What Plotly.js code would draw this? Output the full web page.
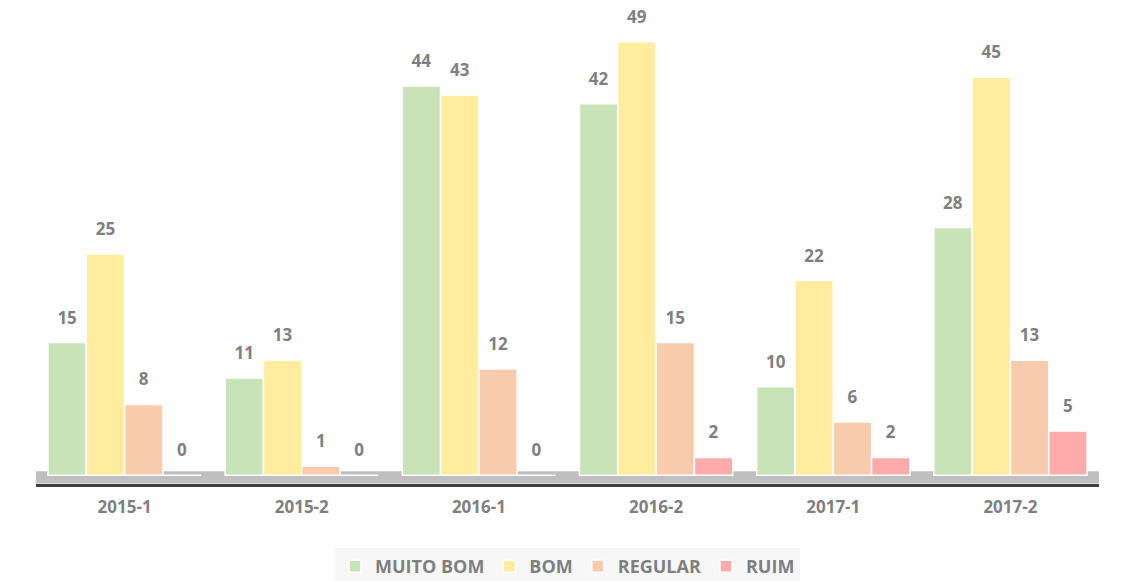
<!DOCTYPE html>
<html>
<head>
<meta charset="utf-8">
<script src="https://cdn.plot.ly/plotly-3.0.1.min.js"></script>
<style>html,body{margin:0;padding:0;background:#fff;}#chart{width:1135px;height:581px;}</style>
</head>
<body>
<div id="chart"></div>
<script>
const categories = ["2015-1", "2015-2", "2016-1", "2016-2", "2017-1", "2017-2"];
const seriesNames = ["MUITO BOM", "BOM", "REGULAR", "RUIM"];
const muitoBom = [15, 11, 44, 42, 10, 28];
const bom = [25, 13, 43, 49, 22, 45];
const regular = [8, 1, 12, 15, 6, 13];
const ruim = [0, 0, 0, 2, 2, 5];
const colors = ["#c9e3b9", "#ffec9e", "#f9cbad", "#ffabab"];

const values = [muitoBom, bom, regular, ruim];
const traces = values.map((v, i) => ({
  type: "bar",
  name: seriesNames[i],
  x: categories,
  y: v,
  marker: { color: colors[i], line: { color: "#ffffff", width: 1.5 } },
  texttemplate: "<span style='font-size:17px'>%{y}</span><br> ",
  textposition: "outside",
  cliponaxis: false,
  textfont: { family: "Open Sans, sans-serif", size: 10, color: "#7f7f7f", weight: "bold" },
  hoverinfo: "x+y+name"
}));

const layout = {
  width: 1135,
  height: 581,
  margin: { l: 36, r: 36, t: 10, b: 97, autoexpand: false },
  paper_bgcolor: "#ffffff",
  plot_bgcolor: "#ffffff",
  barmode: "group",
  bargap: 0.135,
  bargroupgap: 0,
  showlegend: true,
  legend: {
    orientation: "h",
    x: 0.5, xanchor: "center",
    y: -0.135, yanchor: "top",
    bgcolor: "#f7f7f7",
    font: { family: "Open Sans, sans-serif", size: 18, color: "#7f7f7f", weight: "bold" },
    itemwidth: 30,
    traceorder: "normal"
  },
  xaxis: {
    type: "category",
    showgrid: false,
    zeroline: false,
    showline: true,
    linecolor: "#3f3f3f",
    linewidth: 3,
    ticks: "",
    ticklabelstandoff: 6,
    tickfont: { family: "Open Sans, sans-serif", size: 17, color: "#7f7f7f", weight: "bold" },
    fixedrange: true
  },
  yaxis: {
    range: [-1, 52.6],
    visible: false,
    showgrid: false,
    zeroline: false,
    fixedrange: true
  },
  shapes: [
    {
      type: "rect", layer: "below",
      xref: "paper", yref: "y",
      x0: 0, x1: 1, y0: -0.95, y1: 0.45,
      fillcolor: "#bfbfbf", line: { width: 0 }
    }
  ]
};

Plotly.newPlot("chart", traces, layout, { displayModeBar: false, staticPlot: true });
</script>
</body>
</html>
